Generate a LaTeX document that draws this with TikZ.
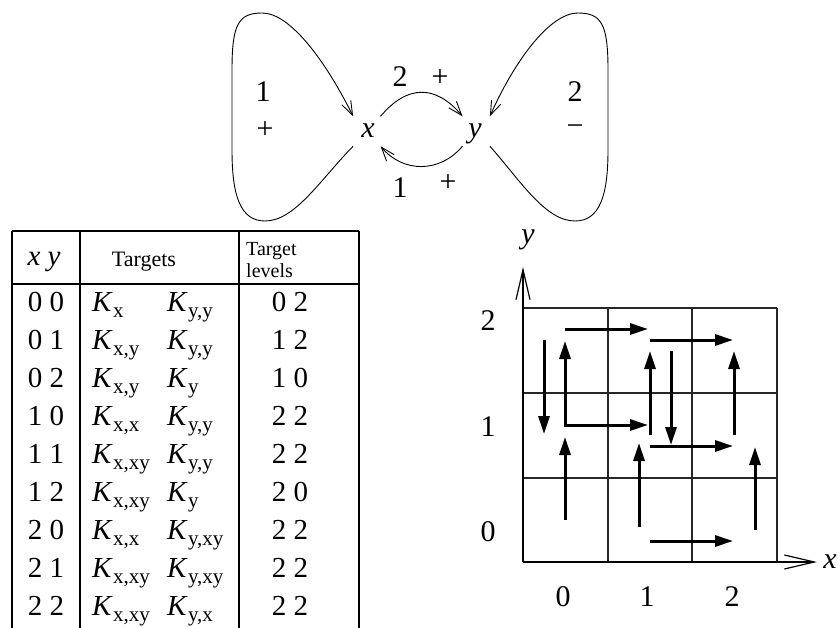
\documentclass[tikz,border=0pt]{standalone}
\usepackage{fontspec}
\setmainfont{Liberation Serif}
\usetikzlibrary{arrows.meta}
\newcommand{\KK}[1]{{\itshape K}\kern1.5pt\raisebox{-6pt}{\fontsize{21}{21}\selectfont #1}}
\begin{document}
\begin{tikzpicture}[x=1pt,y=1pt,
  lbl/.style={font=\fontsize{30}{32}\selectfont, inner sep=0pt},
  vert/.style={font=\fontsize{30}{32}\selectfont\itshape, inner sep=8pt, text height=13.5pt, text depth=0pt, anchor=base},
  tb/.style={font=\fontsize{29}{31}\selectfont, inner sep=0pt, anchor=base},
  tbk/.style={font=\fontsize{29}{31}\selectfont, inner sep=0pt, anchor=base west},
  rule/.style={line width=1.3pt},
  thinarrow/.style={line width=0.9pt, -{Straight Barb[length=14pt,width=10pt,line width=0.9pt]}},
  axis/.style={line width=1.2pt, -{Straight Barb[length=30pt,width=14pt,line width=1.2pt]}},
  gridline/.style={line width=1.3pt, draw=black!85},
  thick arrow/.style={line width=3pt, -{Triangle[length=18pt,width=11pt]}},
  both arrow/.style={line width=3pt, {Triangle[length=18pt,width=11pt]}-{Triangle[length=18pt,width=11pt]}}
]
\useasboundingbox (0,0) rectangle (840,-628);

% ---------- top graph ----------
\node[vert] (x) at (368,-138) {x};
\node[vert] (y) at (475,-138) {y};
\draw[thinarrow] (x) to[out=50,in=130,looseness=1.3] (y);
\draw[thinarrow] (y) to[out=-130,in=-50,looseness=1.1] (x);
\draw[thinarrow] (x.south west) .. controls (320,-180) and (295,-221) .. (265,-221)
  .. controls (240,-221) and (232,-195) .. (232,-150) -- (232,-70)
  .. controls (232,-25) and (238,-13) .. (262,-13)
  .. controls (290,-13) and (325,-60) .. (x.north west);
\draw[thinarrow] (y.south east) .. controls (520,-180) and (545,-221) .. (575,-221)
  .. controls (600,-221) and (608,-195) .. (608,-150) -- (608,-70)
  .. controls (608,-25) and (602,-13) .. (578,-13)
  .. controls (550,-13) and (515,-60) .. (y.north east);
\node[lbl] (l1) at (263,-92) {1};
\node[lbl] (p1) at (265,-130) {+};
\node[lbl] (l2) at (575,-92) {2};
\node[lbl] (m2) at (575,-130) {−};
\node[lbl] (t2) at (400,-77) {2};
\node[lbl] (tp) at (440,-78) {+};
\node[lbl] (b1) at (400,-188) {1};
\node[lbl] (bp) at (448,-183) {+};

% ---------- table ----------
\draw[rule] (12,-231) -- (359,-231);
\draw[rule] (12,-284) -- (359,-284);
\foreach \xx in {12,80,239,359} \draw[rule] (\xx,-231) -- (\xx,-630);
\node[tb, anchor=center] (hxy) at (44,-262) {\itshape x y};
\node[font=\fontsize{22}{24}\selectfont, inner sep=0pt] (htg) at (144,-262) {Targets};
\node[font=\fontsize{20}{22}\selectfont, inner sep=0pt, anchor=base west] (htl1) at (246,-255) {Target};
\node[font=\fontsize{20}{22}\selectfont, inner sep=0pt, anchor=base west] (htl2) at (246,-277) {levels};
\newcommand{\trow}[5]{%
  \node[tb] (a#1) at (46,{-311.5-38*#1}) {#2};
  \node[tbk] (k#1) at (92,{-311.5-38*#1}) {\KK{#3}};
  \node[tbk] (q#1) at (167,{-311.5-38*#1}) {\KK{#4}};
  \node[tb] (v#1) at (290,{-311.5-38*#1}) {#5};}
\trow{0}{0 0}{x}{y,y}{0 2}
\trow{1}{0 1}{x,y}{y,y}{1 2}
\trow{2}{0 2}{x,y}{y}{1 0}
\trow{3}{1 0}{x,x}{y,y}{2 2}
\trow{4}{1 1}{x,xy}{y,y}{2 2}
\trow{5}{1 2}{x,xy}{y}{2 0}
\trow{6}{2 0}{x,x}{y,xy}{2 2}
\trow{7}{2 1}{x,xy}{y,xy}{2 2}
\trow{8}{2 2}{x,xy}{y,x}{2 2}

% ---------- grid ----------
\foreach \gx in {523,608,692,777} \draw[gridline] (\gx,-308) -- (\gx,-562);
\foreach \gy in {-308,-393,-478,-562} \draw[gridline] (523,\gy) -- (777,\gy);
\coordinate (o) at (523,-562);
\coordinate (ytip) at (523,-267);
\coordinate (xtip) at (817,-562);
\draw[axis] (o) -- (ytip);
\draw[axis] (o) -- (xtip);
\node[lbl] (ylab) at (528,-240) {\itshape y};
\node[lbl] (xlab) at (830,-562) {\itshape x};
\node[lbl] (y2) at (488,-321) {2};
\node[lbl] (y1) at (488,-427) {1};
\node[lbl] (y0) at (488,-532) {0};
\node[lbl] (x0) at (563,-597) {0};
\node[lbl] (x1) at (647,-597) {1};
\node[lbl] (x2) at (732,-597) {2};

\draw[thick arrow] (565,-329) -- (648,-329);
\draw[thick arrow] (650,-340) -- (733,-340);
\draw[thick arrow] (544,-340) -- (544,-434);
\draw[both arrow] (565,-341) |- (648,-425);
\draw[thick arrow] (650,-435) -- (650,-351);
\draw[thick arrow] (671,-351) -- (671,-445);
\draw[thick arrow] (650,-446) -- (733,-446);
\draw[thick arrow] (734,-435) -- (734,-351);
\draw[thick arrow] (565,-520) -- (565,-437);
\draw[thick arrow] (639,-527) -- (639,-443);
\draw[thick arrow] (755,-530) -- (755,-447);
\draw[thick arrow] (650,-541) -- (733,-541);
\end{tikzpicture}
\end{document}
